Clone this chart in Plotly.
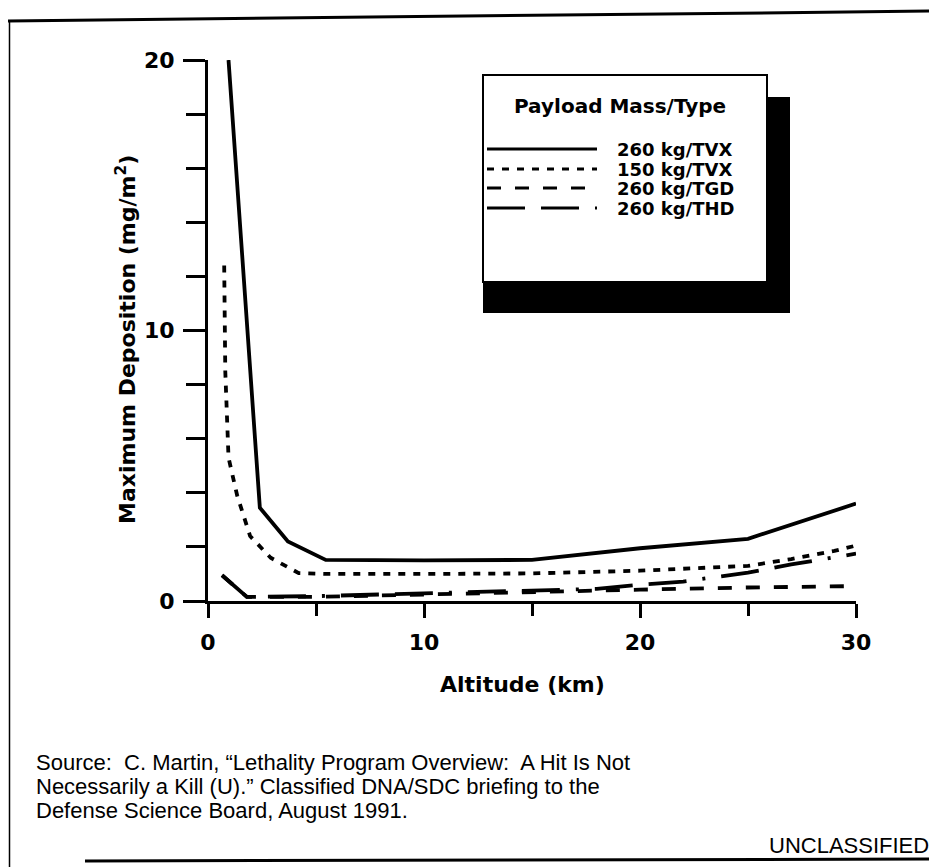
import plotly.graph_objects as go

# ---------------- data ----------------
alt_tvx260 = [0.95, 2.4, 3.7, 5.45, 10, 15, 20, 25, 30]
dep_tvx260 = [20.0, 3.45, 2.2, 1.52, 1.5, 1.52, 1.95, 2.3, 3.6]

alt_tvx150 = [0.75, 0.8, 0.95, 1.35, 1.95, 2.9, 4.2, 5.5, 10, 15, 20, 25, 27, 29, 30]
dep_tvx150 = [12.4, 8.5, 5.3, 3.9, 2.4, 1.6, 1.03, 1.0, 1.0, 1.02, 1.12, 1.3, 1.55, 1.85, 2.05]

alt_tgd260 = [0.65, 1.8, 5, 10, 15, 20, 25, 30]
dep_tgd260 = [0.95, 0.15, 0.15, 0.25, 0.35, 0.42, 0.5, 0.55]

alt_thd260 = [0.65, 1.8, 5, 10, 15, 18, 20, 22, 25, 27, 30]
dep_thd260 = [0.95, 0.15, 0.18, 0.28, 0.4, 0.45, 0.6, 0.72, 1.05, 1.35, 1.75]

series_names = ["260 kg/TVX", "150 kg/TVX", "260 kg/TGD", "260 kg/THD"]

x_tickvals = [0, 10, 20, 30]
x_ticktext = ["0", "10", "20", "30"]
y_tickvals = [0, 10, 20]
y_ticktext = ["0", "10", "20"]

# ---------------- layout helpers ----------------
# The page adds an 8px body margin, so the figure is drawn at (8, 8).
OFF = 8
W, H = 937, 867
L, R, T, B = 208, 856, 60, 601   # plot area in screen pixels


def px(x):
    return (x - L) / (R - L)


def py(y):
    return (B - y) / (B - T)


BOLD = "DejaVu Sans"
REG = "Liberation Sans, Arial, sans-serif"

dashes = ["solid", "7px,8px", "14px,14px", "38px,16px,38px,16px,3px,16px"]

fig = go.Figure()
for xs, ys, nm, d in [
    (alt_tvx260, dep_tvx260, series_names[0], dashes[0]),
    (alt_tvx150, dep_tvx150, series_names[1], dashes[1]),
    (alt_tgd260, dep_tgd260, series_names[2], dashes[2]),
    (alt_thd260, dep_thd260, series_names[3], dashes[3]),
]:
    fig.add_trace(go.Scatter(x=xs, y=ys, mode="lines", name=nm,
                             line=dict(color="black", width=3.8, dash=d),
                             showlegend=False))

shapes = []
annotations = []

# legend box with shadow
shapes.append(dict(type="rect", xref="paper", yref="paper",
                   x0=px(483), x1=px(790), y0=py(313), y1=py(97),
                   fillcolor="black", line=dict(width=0), layer="above"))
shapes.append(dict(type="rect", xref="paper", yref="paper",
                   x0=px(483), x1=px(767), y0=py(282), y1=py(75),
                   fillcolor="white", line=dict(color="black", width=2), layer="above"))
annotations.append(dict(xref="paper", yref="paper", x=px(620), y=py(106),
                        text="Payload Mass/Type", showarrow=False,
                        font=dict(family=BOLD, size=20, color="black", weight="bold"),
                        xanchor="center", yanchor="middle"))
row_y = [149, 169, 188, 208]
for nm, d, yy in zip(series_names, dashes, row_y):
    shapes.append(dict(type="line", xref="paper", yref="paper",
                       x0=px(487), x1=px(597), y0=py(yy), y1=py(yy),
                       line=dict(color="black", width=3, dash=d), layer="above"))
    annotations.append(dict(xref="paper", yref="paper", x=px(615), y=py(yy),
                            text=nm, showarrow=False,
                            font=dict(family=BOLD, size=18, color="black", weight="bold"),
                            xanchor="left", yanchor="middle"))

# axis titles
annotations.append(dict(xref="paper", yref="paper", x=px(522), y=py(684),
                        text="Altitude (km)", showarrow=False,
                        font=dict(family=BOLD, size=22, color="black", weight="bold"),
                        xanchor="center", yanchor="middle"))
annotations.append(dict(xref="paper", yref="paper", x=px(126), y=py(340),
                        text="Maximum Deposition (mg/m<sup>2</sup>)", showarrow=False,
                        textangle=-90,
                        font=dict(family=BOLD, size=22, color="black", weight="bold"),
                        xanchor="center", yanchor="middle"))

# source text
source_lines = [
    "Source:  C. Martin, \u201cLethality Program Overview:  A Hit Is Not",
    "Necessarily a Kill (U).\u201d Classified DNA/SDC briefing to the",
    "Defense Science Board, August 1991.",
]
for i, s in enumerate(source_lines):
    annotations.append(dict(xref="paper", yref="paper", x=px(34), y=py(762 + 24 * i),
                            text=s, showarrow=False,
                            font=dict(family=REG, size=22, color="black"),
                            xanchor="left", yanchor="middle"))
annotations.append(dict(xref="paper", yref="paper", x=px(931), y=py(845),
                        text="UNCLASSIFIED", showarrow=False,
                        font=dict(family=REG, size=22, color="black"),
                        xanchor="right", yanchor="middle"))

# page frame
shapes.append(dict(type="line", xref="paper", yref="paper", x0=px(5), x1=px(5),
                   y0=py(20), y1=py(880), line=dict(color="black", width=2)))
shapes.append(dict(type="line", xref="paper", yref="paper", x0=px(9.5), x1=px(9.5),
                   y0=py(22), y1=py(880), line=dict(color="black", width=1.5)))
shapes.append(dict(type="line", xref="paper", yref="paper", x0=px(5), x1=px(940),
                   y0=py(21), y1=py(11), line=dict(color="black", width=3)))
shapes.append(dict(type="line", xref="paper", yref="paper", x0=px(85), x1=px(940),
                   y0=py(861), y1=py(859), line=dict(color="black", width=3)))

fig.update_layout(
    width=W, height=H,
    margin=dict(l=L - OFF, r=W - (R - OFF), t=T - OFF, b=H - (B - OFF), pad=0),
    paper_bgcolor="white", plot_bgcolor="white",
    showlegend=False,
    shapes=shapes, annotations=annotations,
    xaxis=dict(range=[0, 30], tickmode="array", tickvals=x_tickvals, ticktext=x_ticktext,
               showline=True, linecolor="black", linewidth=3, showgrid=False, zeroline=False,
               ticks="outside", ticklen=14, tickwidth=2.5, tickcolor="black",
               ticklabelstandoff=6,
               minor=dict(dtick=5, tick0=0, ticks="outside", ticklen=12, tickwidth=2.5,
                          tickcolor="black", showgrid=False),
               tickfont=dict(family=BOLD, size=22, color="black", weight="bold")),
    yaxis=dict(range=[0, 20], tickmode="array", tickvals=y_tickvals, ticktext=y_ticktext,
               showline=True, linecolor="black", linewidth=3, showgrid=False, zeroline=False,
               ticks="outside", ticklen=22, tickwidth=2.5, tickcolor="black",
               ticklabelstandoff=4,
               minor=dict(dtick=2, tick0=0, ticks="outside", ticklen=19, tickwidth=2.5,
                          tickcolor="black", showgrid=False),
               tickfont=dict(family=BOLD, size=22, color="black", weight="bold")),
)

fig.write_html("out.html")
